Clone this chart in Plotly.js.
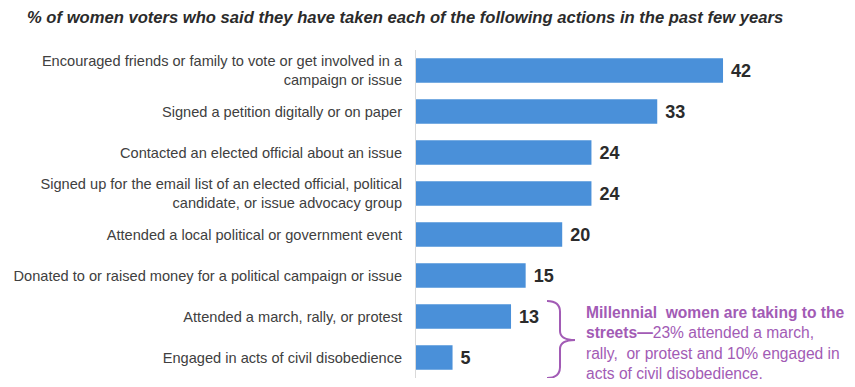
<!DOCTYPE html>
<html>
<head>
<meta charset="utf-8">
<script src="https://cdn.plot.ly/plotly-3.0.1.min.js"></script>
<style>html,body{margin:0;padding:0;background:#fff}#chart{width:855px;height:387px}</style>
</head>
<body>
<div id="chart"></div>
<script>
const categories = [
  "Encouraged friends or family to vote or get involved in a<br>campaign or issue",
  "Signed a petition digitally or on paper",
  "Contacted an elected official about an issue",
  "Signed up for the email list of an elected official, political<br>candidate, or issue advocacy group",
  "Attended a local political or government event",
  "Donated to or raised money for a political campaign or issue",
  "Attended a march, rally, or protest",
  "Engaged in acts of civil disobedience"
];
const values = [42, 33, 24, 24, 20, 15, 13, 5];
const titleText = "% of women voters who said they have taken each of the following actions in the past few years";
const noteText = "<b>Millennial  women are taking to the<br>streets\u2014</b>23% attended a march,<br>rally,  or protest and 10% engaged in<br>acts of civil disobedience.";

const font = "Arial, 'Liberation Sans', sans-serif";
const purple = "#a25bb5";

const trace = {
  type: "bar",
  orientation: "h",
  x: values,
  y: categories.map((c, i) => i),
  width: 0.6,
  marker: {color: "#4a90d9"},
  text: values.map(String),
  textposition: "outside",
  cliponaxis: false,
  textfont: {family: font, size: 18, color: "#2b2b2b", weight: "bold"},
  texttemplate: "\u00a0<b>%{text}</b>",
  hoverinfo: "none"
};

const layout = {
  width: 855, height: 387,
  margin: {l: 416, r: 15, t: 50, b: 9},
  paper_bgcolor: "#ffffff", plot_bgcolor: "#ffffff",
  showlegend: false,
  bargap: 0.4,
  title: {text: "<b><i>" + titleText + "</i></b>", x: 27/855, xanchor: "left", xref: "container",
          y: 1 - 17/387, yanchor: "middle", yref: "container",
          font: {family: font, size: 16.6, color: "#2b2b2b"}},
  xaxis: {range: [0, 58], visible: false, fixedrange: true},
  yaxis: {
    range: [7.5, -0.5],
    tickmode: "array",
    tickvals: categories.map((c, i) => i),
    ticktext: categories,
    ticks: "", ticklabelstandoff: 10,
    showgrid: false, zeroline: false,
    showline: true, linecolor: "#d9d9d9", linewidth: 1,
    tickfont: {family: font, size: 14.6, color: "#404040"},
    fixedrange: true
  },
  shapes: [{
    type: "path", xref: "x", yref: "y",
    path: (function(){
      const px = v => (v - 416) / 7.31;
      const py = v => (v - 50) / 41 - 0.5;
      return `M ${px(547)} ${py(301)} Q ${px(560)} ${py(301)} ${px(560)} ${py(312)} L ${px(560)} ${py(331)} Q ${px(560)} ${py(340)} ${px(575)} ${py(340)} Q ${px(560)} ${py(340)} ${px(560)} ${py(349)} L ${px(560)} ${py(367)} Q ${px(560)} ${py(378)} ${px(547)} ${py(378)}`;
    })(),
    line: {color: purple, width: 2}
  }],
  annotations: [{
    xref: "x", yref: "paper",
    x: (584 - 416) / 7.31, y: (378.5 - 302) / 328.5,
    xanchor: "left", yanchor: "top", align: "left",
    showarrow: false,
    text: noteText,
    font: {family: font, size: 15.6, color: purple}
  }]
};

Plotly.newPlot("chart", [trace], layout, {displayModeBar: false, staticPlot: true});
</script>
</body>
</html>
